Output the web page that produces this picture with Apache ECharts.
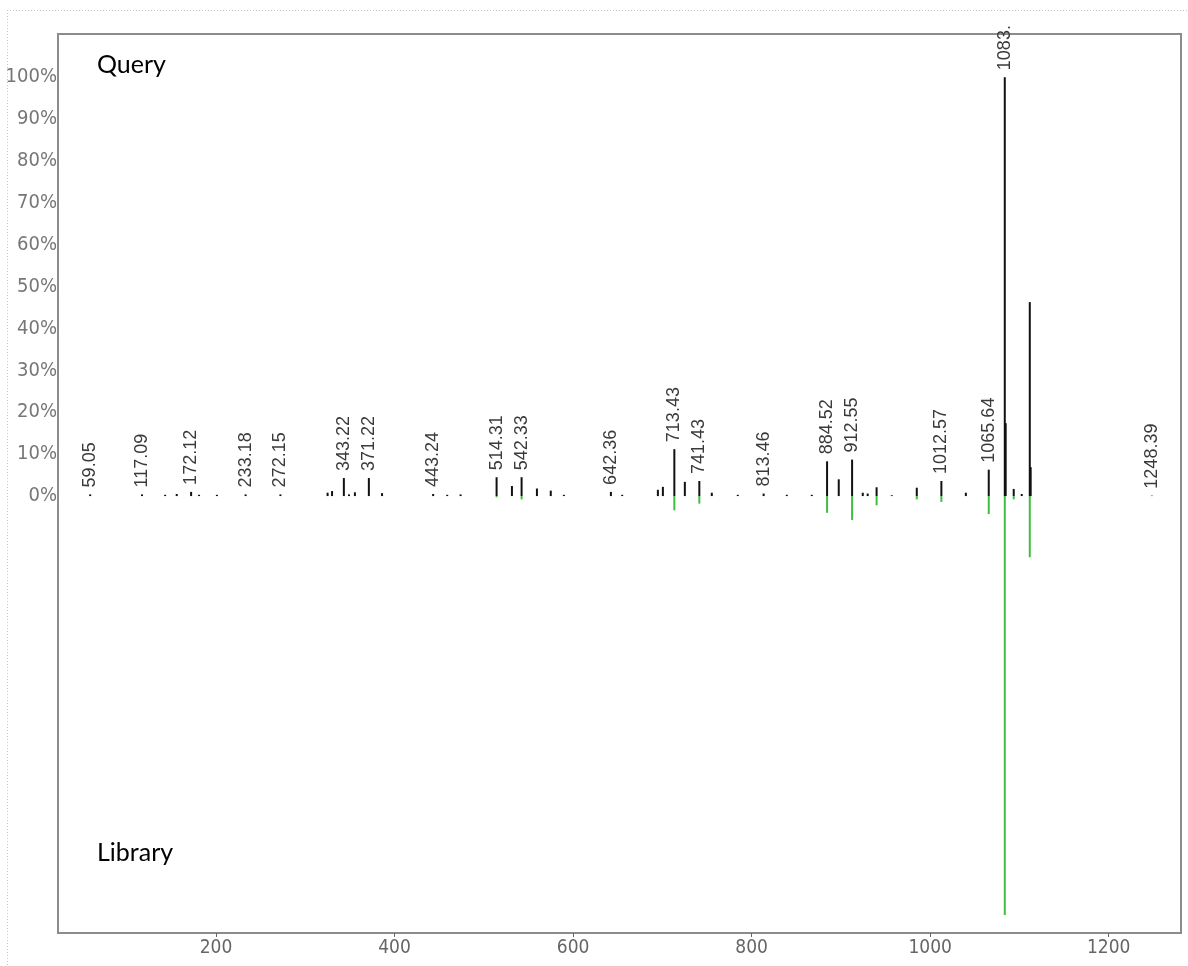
<!DOCTYPE html>
<html>
<head>
<meta charset="utf-8">
<script src="https://cdn.jsdelivr.net/npm/echarts@6/dist/echarts.min.js"></script>
<style>
html,body{margin:0;padding:0;background:#fff;}
#chart{width:1188px;height:966px;}
</style>
</head>
<body>
<div id="chart"></div>
<script>
// m/z and relative intensity (%) of the query spectrum
const queryPeaks = [
  [59.05,0.4],[117.09,0.4],[143,0.3],[156,0.5],[172.12,1.0],[181,0.3],[201,0.3],
  [233.18,0.4],[272.15,0.4],[325,0.8],[330,1.2],[343.22,4.3],[349,0.4],[355.6,0.9],
  [371.22,4.3],[386,0.7],[443.24,0.5],[459,0.3],[474,0.4],[514.31,4.5],[531.5,2.4],
  [542.33,4.5],[559.5,1.8],[575,1.3],[589.7,0.3],[642.36,1.0],[655,0.3],[695,1.5],
  [700.6,2.2],[713.43,11.2],[725.2,3.4],[741.43,3.6],[755.4,0.8],[784.5,0.3],
  [813.46,0.6],[839.4,0.3],[867.4,0.3],[884.52,8.3],[897.6,4.0],[912.55,8.7],
  [924.5,0.8],[930,0.6],[940,2.1],[957,0.2],[985,2.0],[1012.57,3.6],[1040,0.8],
  [1065.64,6.3],[1083.6,100],[1084.6,17.4],[1093.6,1.7],[1102.6,0.5],[1111.6,46.3],
  [1112.6,6.9],[1248.39,0.1]
];
// m/z and relative intensity (%) of the library spectrum (drawn downward)
const libraryPeaks = [
  [514.31,0.3],[542.33,0.8],[713.43,3.4],[741.43,1.8],[884.52,4.0],[912.55,5.7],
  [940,2.2],[985,0.8],[1012.57,1.4],[1065.64,4.3],[1083.6,100],[1093.6,0.8],[1111.6,14.6]
];
// annotated query peaks
const peakLabels = [
  ['59.05',59.05],['117.09',117.09],['172.12',172.12],['233.18',233.18],['272.15',272.15],
  ['343.22',343.22],['371.22',371.22],['443.24',443.24],['514.31',514.31],['542.33',542.33],
  ['642.36',642.36],['713.43',713.43],['741.43',741.43],['813.46',813.46],['884.52',884.52],
  ['912.55',912.55],['1012.57',1012.57],['1065.64',1065.64],['1083.6',1083.6],['1248.39',1248.39]
];
const xTicks = [200,400,600,800,1000,1200];
const yTicks = [0,10,20,30,40,50,60,70,80,90,100];

const chart = echarts.init(document.getElementById('chart'));

function stickRenderer(color){
  return function(params, api){
    const x = api.value(0), y = api.value(1);
    const p0 = api.coord([x,0]);
    const p1 = api.coord([x,y]);
    return {type:'line', shape:{x1:p0[0],y1:p0[1],x2:p1[0],y2:p1[1]},
            style:{stroke:color,lineWidth:2}};
  };
}

const labelData = peakLabels.map(function(l){
  const q = queryPeaks.find(function(p){return p[0]===l[1];});
  return [l[1], q ? q[1] : 0, l[0]];
});

const axisFont = '"Liberation Sans Narrow", "DejaVu Sans Condensed", sans-serif';

const option = {
  backgroundColor:'#fff',
  animation:false,
  grid:{left:58, top:34, right:7, bottom:33, show:true, borderColor:'#8c8c8c', borderWidth:2},
  xAxis:{
    type:'value', min:23, max:1281,
    axisLine:{show:true, onZero:false, lineStyle:{color:'#8c8c8c', width:2}},
    axisTick:{show:true, length:4, customValues:xTicks, lineStyle:{color:'#666'}},
    axisLabel:{customValues:xTicks, formatter:function(v){return String(v);}, color:'#666', fontSize:19, fontFamily:axisFont, margin:6},
    splitLine:{show:false}
  },
  yAxis:{
    type:'value', min:-104.3, max:110.3,
    axisLine:{show:true, onZero:false, lineStyle:{color:'#8c8c8c', width:2}},
    axisTick:{show:false},
    axisLabel:{customValues:yTicks, formatter:function(v){return v+'%';}, color:'#777', fontSize:20, fontFamily:axisFont, margin:1},
    splitLine:{show:false}
  },
  graphic:[
    {type:'line', shape:{x1:7,y1:10.5,x2:1188,y2:10.5}, style:{stroke:'#c4c4c4', lineWidth:1, lineDash:[1,2]}},
    {type:'line', shape:{x1:7.5,y1:10,x2:7.5,y2:966}, style:{stroke:'#c4c4c4', lineWidth:1, lineDash:[1,2]}},
    {type:'text', left:97, top:52, style:{text:'Query', fill:'#000', font:'25px Lato, "Open Sans", sans-serif'}},
    {type:'text', left:97, top:840, style:{text:'Library', fill:'#000', font:'25px Lato, "Open Sans", sans-serif'}}
  ],
  series:[
    {type:'custom', name:'Library', data:libraryPeaks.map(function(p){return [p[0], -p[1]];}),
     renderItem:stickRenderer('#3fbf3f'), clip:true},
    {type:'custom', name:'Query', data:queryPeaks, renderItem:stickRenderer('#111'), clip:true},
    {type:'custom', name:'Labels', data:labelData, clip:false,
     renderItem:function(params, api){
       const x = api.value(0), y = api.value(1);
       const p = api.coord([x,y]);
       const txt = labelData[params.dataIndex][2];
       const startY = p[1]-7;
       return {type:'text', x:p[0], y:startY, rotation:Math.PI/2,
         style:{text:txt, align:'left', verticalAlign:'middle', fill:'#3a3a3a',
                font:'18px "Liberation Sans", Arial, sans-serif',
                width:Math.max(10, startY-20), overflow:'truncate', ellipsis:''}};
     }}
  ]
};
chart.setOption(option);
</script>
</body>
</html>
